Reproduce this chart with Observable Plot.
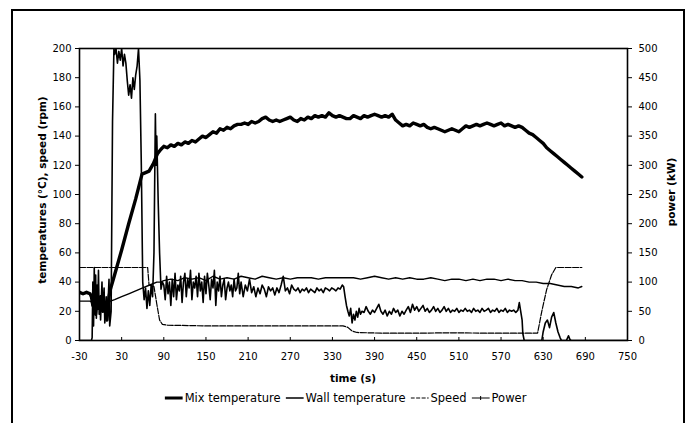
<!DOCTYPE html>
<html><head><meta charset="utf-8">
<script src="https://cdn.jsdelivr.net/npm/d3@7"></script>
<script src="https://cdn.jsdelivr.net/npm/@observablehq/plot@0.6"></script>
<style>
body{margin:0;background:#fff;font-family:"DejaVu Sans",Verdana,sans-serif;color:#000;}
#wrap{position:relative;width:687px;height:423px;overflow:hidden;background:#fff;}
#box{position:absolute;left:11px;top:9px;width:670px;height:430px;border:2px solid #000;border-bottom:none;}
#chart{position:absolute;left:0;top:0;}
.ttl{position:absolute;font-weight:bold;font-size:10.5px;white-space:nowrap;}
#ylab{left:42px;top:190px;transform:translate(-50%,-50%) rotate(-90deg);}
#y2lab{left:671px;top:192px;transform:translate(-50%,-50%) rotate(-90deg);}
#xlab{left:353px;top:378px;transform:translate(-50%,-50%);}
#legend{position:absolute;top:398px;left:348px;transform:translate(-50%,-50%);display:flex;align-items:center;font-size:11.5px;white-space:nowrap;}
#legend span{display:inline-flex;align-items:center;margin-right:5px;}
#legend svg{margin-right:1px;}
</style></head>
<body>
<div id="wrap">
  <div id="box"></div>
  <div id="chart"></div>
  <div class="ttl" id="ylab">temperatures (°C), speed (rpm)</div>
  <div class="ttl" id="y2lab">power (kW)</div>
  <div class="ttl" id="xlab">time (s)</div>
  <div id="legend"></div>
</div>
<script>
// ---- tick definitions ----
const X_TICKS = [-30, 30, 90, 150, 210, 270, 330, 390, 450, 510, 570, 630, 690, 750];
const Y_TICKS = [0, 20, 40, 60, 80, 100, 120, 140, 160, 180, 200];
const POWER_TICKS = [0, 50, 100, 150, 200, 250, 300, 350, 400, 450, 500];
const KW_PER_UNIT = 2.5; // right axis (kW) vs left axis units

// ---- series: [time s, value] ----
const mixTemperature = [
[-30,33],[-25,32],[-20,33],[-15,32],[-13,30],[-11,24],[-9,36],[-7,18],[-5,28],[-3,22],[0,30],[3,20],[6,26],[9,14],[12,30],[14,35],
[20,45],[30,62],[40,80],[50,97],[59,114],[64,115],[69,116],[75,121],[81,128],[86,131],[90,133],[95,132],[100,134],[105,133],[110,135],
[115,134],[120,136],[125,135],[130,137],[135,136],[140,138],[145,140],[150,139],[155,141],[160,143],[165,142],[170,145],[175,144],[180,146],
[185,145],[190,147],[195,148],[200,148],[205,149],[210,148],[215,150],[220,149],[225,150],[230,152],[235,153],[240,151],[245,150],[250,151],
[255,150],[260,151],[265,152],[270,153],[275,151],[280,150],[285,152],[290,151],[295,153],[300,152],[305,154],[310,153],[315,154],[320,153],
[325,156],[330,154],[335,153],[340,154],[345,153],[350,152],[355,152],[360,154],[365,153],[370,152],[375,154],[380,153],[385,154],[390,155],
[395,154],[400,153],[405,154],[410,153],[415,155],[420,151],[425,149],[430,147],[435,148],[440,147],[445,149],[450,148],[455,147],[460,148],
[465,146],[470,145],[475,146],[480,145],[485,144],[490,143],[495,144],[500,145],[505,144],[510,143],[515,145],[520,147],[525,146],[530,147],
[535,148],[540,147],[545,148],[550,149],[555,148],[560,147],[565,148],[570,149],[575,147],[580,148],[585,147],[590,146],[595,147],[600,146],
[605,144],[610,142],[615,141],[620,139],[625,137],[630,135],[635,132],[640,130],[645,128],[650,126],[655,124],[660,122],[665,120],[670,118],
[675,116],[680,114],[685,112]
];

const wallTemperature = [
[-30,27],[-15,27],[-12,26],[-5,27],[0,25],[5,27],[10,26],[14,27],[20,28],[30,30],[40,32],[50,34],[60,36],[70,38],[80,40],[85,40],[90,41],
[100,42],[110,41],[120,43],[130,42],[140,43],[150,41],[160,44],[170,42],[180,43],[190,42],[200,44],[210,43],[220,42],[230,44],[240,43],
[250,42],[260,43],[270,42],[280,43],[290,43],[300,43],[310,42],[320,43],[330,43],[340,43],[350,43],[360,43],[370,42],[380,43],[390,44],
[400,43],[410,42],[420,43],[430,42],[440,43],[450,42],[460,42],[470,43],[480,42],[490,41],[500,42],[510,42],[520,41],[530,42],[540,41],
[550,42],[560,42],[570,41],[580,42],[590,41],[600,41],[610,40],[620,40],[630,39],[640,39],[650,38],[660,37],[670,37],[680,36],[685,37]
];

const speed = [
[-30,50],[0,50],[30,50],[60,50],[67,50],[69,38],[76,37],[80,25],[84,14],[88,11],[95,10.5],[150,10],[200,10],[250,10],[300,10],[345,10],
[352,9],[358,6.5],[365,5.5],[400,5],[450,5],[500,5.3],[550,5],[600,5],[622,5],[628,20],[635,35],[642,45],[648,50],[660,50],[685,50]
];

const powerKW = [
[-30,0],[-20,0],[-13,0],[-12,5],[-11,100],[-10,25],[-9,125],[-8,50],[-7,112],[-6,38],[-5,95],[-4,55],[-3,120],[-2,45],[-1,75],[0,35],
[2,100],[3,50],[5,90],[6,30],[8,75],[10,45],[12,105],[13,25],[15,50],[17,375],[19,500],[20,490],[22,500],[24,475],[26,495],[28,480],
[30,500],[32,470],[34,490],[36,475],[38,445],[40,420],[42,438],[44,415],[46,450],[48,430],[50,455],[52,470],[54,500],[56,445],[58,300],
[60,100],[62,70],[64,90],[66,55],[68,85],[70,60],[72,95],[74,75],[76,150],[78,388],[79,300],[80,350],[82,238],[84,150],[86,88],[88,100],
[90,95],[92,70],[94,110],[96,80],[98,100],[100,60],[102,105],[104,75],[106,115],[108,70],[110,95],[112,85],[114,110],[116,65],[118,100],
[120,115],[122,75],[124,105],[126,90],[128,120],[130,70],[132,100],[134,90],[136,110],[138,75],[140,115],[142,85],[144,100],[146,65],
[148,110],[150,80],[152,115],[154,95],[156,70],[158,105],[160,90],[162,120],[164,60],[166,100],[168,85],[170,110],[172,75],[174,95],
[176,105],[178,70],[180,90],[182,100],[184,85],[186,95],[188,75],[190,105],[192,85],[194,90],[196,115],[198,80],[200,100],[203,75],
[206,95],[209,85],[212,105],[215,82],[218,92],[221,75],[224,90],[227,80],[230,95],[233,88],[236,75],[239,92],[242,85],[245,90],[248,78],
[251,90],[254,82],[257,95],[260,110],[263,85],[266,90],[269,80],[272,95],[275,88],[278,85],[281,90],[284,82],[287,88],[290,85],[293,90],
[296,82],[299,88],[302,85],[305,82],[308,90],[311,85],[314,88],[317,82],[320,90],[323,88],[326,85],[329,90],[332,88],[335,85],[338,90],
[341,88],[344,95],[346,92],[348,75],[350,60],[352,50],[354,42],[356,55],[358,30],[360,45],[362,35],[364,50],[366,40],[368,55],[370,45],
[372,50],[375,48],[378,58],[381,50],[384,45],[387,52],[390,48],[393,55],[396,62],[399,50],[402,45],[405,52],[408,42],[411,50],[414,45],
[417,55],[420,48],[423,52],[426,42],[429,50],[432,45],[435,52],[438,58],[441,48],[444,62],[447,52],[450,58],[453,50],[456,55],[459,60],
[462,50],[465,55],[468,48],[471,52],[474,58],[477,50],[480,55],[483,48],[486,52],[489,58],[492,50],[495,55],[498,48],[501,52],[504,50],
[507,55],[510,48],[513,52],[516,50],[519,55],[522,50],[525,52],[528,48],[531,55],[534,50],[537,52],[540,48],[543,55],[546,50],[549,52],
[552,55],[555,48],[558,52],[561,50],[564,55],[567,48],[570,52],[573,50],[576,55],[579,48],[582,52],[585,50],[588,52],[591,48],[594,52],
[596,65],[598,50],[600,35],[601,12],[603,0],[625,0],[628,0],[630,15],[633,30],[636,35],[639,22],[642,40],[645,48],[648,30],[651,15],
[654,5],[656,0],[663,0],[666,8],[668,2],[670,0],[750,0]
];

const chart = Plot.plot({
  width: 687, height: 385,
  marginLeft: 79, marginRight: 60, marginTop: 48, marginBottom: 45,
  x: {domain: [-30, 750]},
  y: {domain: [0, 200]},
  style: {fontFamily: "DejaVu Sans, Verdana, sans-serif", fontSize: "10px", color: "#000", background: "transparent", overflow: "visible"},
  marks: [
    Plot.axisX({ticks: X_TICKS, tickSize: -3, tickPadding: 15, label: null, tickFormat: d => String(d)}),
    Plot.axisY({ticks: Y_TICKS, tickSize: 4, tickPadding: 4, label: null}),
    Plot.axisY({anchor: "right", ticks: POWER_TICKS.map(p => p / KW_PER_UNIT), tickFormat: d => String(Math.round(d * KW_PER_UNIT)), tickSize: 4, tickPadding: 7, label: null}),
    Plot.line(powerKW, {x: d => d[0], y: d => d[1] / KW_PER_UNIT, stroke: "#000", strokeWidth: 1.6, clip: true}),
    Plot.line(speed, {x: d => d[0], y: d => d[1], stroke: "#000", strokeWidth: 1.2, strokeDasharray: "6,1.5", clip: true}),
    Plot.line(wallTemperature, {x: d => d[0], y: d => d[1], stroke: "#000", strokeWidth: 1.4, clip: true}),
    Plot.line(mixTemperature, {x: d => d[0], y: d => d[1], stroke: "#000", strokeWidth: 3.4, clip: true}),
    Plot.frame({stroke: "#000", strokeWidth: 1.6})
  ]
});
document.getElementById("chart").append(chart);

// ---- legend ----
const legendItems = [
  {name: "Mix temperature", width: 3, dash: null},
  {name: "Wall temperature", width: 1.5, dash: null},
  {name: "Speed", width: 1.2, dash: "4,1.5"},
  {name: "Power", width: 1.2, dash: null, marks: true}
];
const leg = document.getElementById("legend");
for (const it of legendItems) {
  const s = document.createElement("span");
  let inner = `<line x1="0" y1="5" x2="18" y2="5" stroke="#000" stroke-width="${it.width}" ${it.dash ? `stroke-dasharray="${it.dash}"` : ""}/>`;
  if (it.marks) inner += `<line x1="9" y1="3" x2="9" y2="7" stroke="#000" stroke-width="1"/>`;
  s.innerHTML = `<svg width="19" height="10">${inner}</svg>${it.name}`;
  leg.append(s);
}
</script>
</body></html>
